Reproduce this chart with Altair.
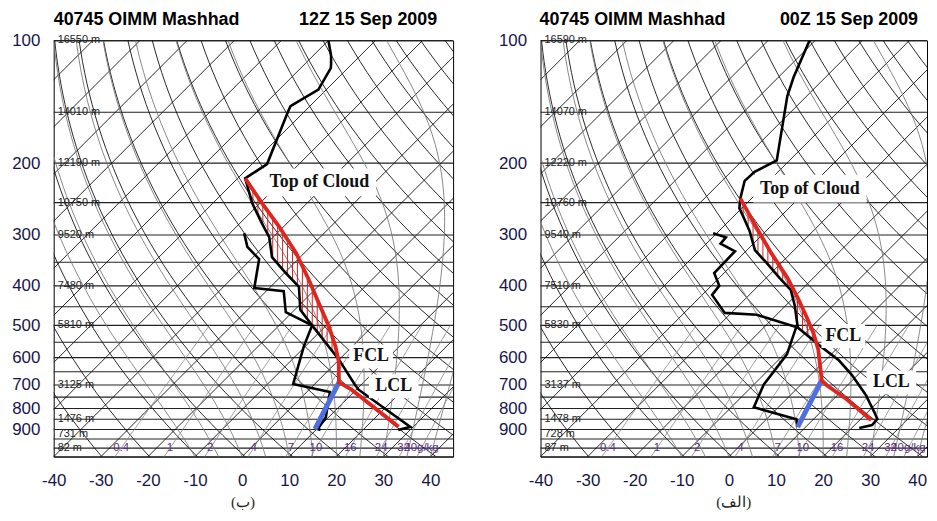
import numpy as np
import pandas as pd
import altair as alt

# ---------------- axes / grid definitions ----------------
PRESSURE_TICKS = [100, 200, 300, 400, 500, 600, 700, 800, 900]
TEMP_TICKS = [-40, -30, -20, -10, 0, 10, 20, 30, 40]
PRESSURE_LINES = [100, 150, 200, 250, 300, 350, 400, 450, 500, 550, 600, 650,
                  700, 750, 800, 850, 900, 950, 1000, 1050]
ISOTHERMS = [-130, -120, -110, -100, -90, -80, -70, -60, -50, -40, -30, -20,
             -10, 0, 10, 20, 30, 40, 50]
DRY_ADIABATS = [230, 240, 250, 260, 270, 280, 290, 300, 310, 320, 330, 340,
                350, 360, 370, 380, 390, 400, 410, 420, 430, 440, 450, 460]
MOIST_ADIABATS = [-10, -5, 0, 5, 10, 15, 20, 25, 30, 35, 40]
MIXING_RATIOS = [0.4, 1, 2, 4, 7, 10, 16, 24, 32, 40]
MIXING_LABELS = ["0.4", "1", "2", "4", "7", "10", "16", "24", "32", "40g/kg"]
HEIGHT_LEVELS = [100, 150, 200, 250, 300, 400, 500, 700, 850, 925, 1000]

# ---------------- left panel (12Z) ----------------
L_TITLE = "40745 OIMM Mashhad"
L_DATE = "12Z 15 Sep 2009"
L_CAPTION = "(ب)"
L_HEIGHTS = ["16550 m", "14010 m", "12190 m", "10750 m", "9520 m", "7480 m",
             "5810 m", "3125 m", "1476 m", "731 m", "82 m"]
L_TEMP_P = [100, 109, 114, 117, 132, 145, 150, 201, 218, 251, 281, 304, 340,
            372, 402, 458, 500, 606, 697, 718, 887, 903]
L_TEMP_T = [-70.0, -66.2, -64.5, -63.6, -61.7, -64.1, -63.4, -56.8, -58.4,
            -51.6, -45.3, -40.8, -36.0, -29.7, -24.0, -18.8, -13.0, -0.1, 8.5,
            10.4, 29.4, 27.5]
L_DEW_P = [297, 321, 344, 405, 412, 464, 500, 563, 696, 728, 840, 898, 903]
L_DEW_T = [-47.0, -43.4, -38.3, -33.2, -26.3, -21.4, -13.0, -10.3, -4.6, 4.9,
           9.4, 10.2, 11.0]
L_PARCEL_P = [218, 251, 287, 332, 387, 432, 503, 564, 613, 690, 718, 887]
L_PARCEL_T = [-58.4, -49.5, -40.8, -31.8, -23.3, -17.4, -9.2, -3.5, 0.3, 4.8,
              8.9, 26.9]
L_LCL_P = [898, 690]
L_LCL_T = [9.6, 4.8]
L_ANN_TEXT = ["Top of Cloud", "FCL", "LCL"]
L_ANN_X = [16.4, 27.4, 32.2]
L_ANN_P = [223, 596, 706]

# ---------------- right panel (00Z) ----------------
R_TITLE = "40745 OIMM Mashhad"
R_DATE = "00Z 15 Sep 2009"
R_CAPTION = "(الف)"
R_HEIGHTS = ["16590 m", "14070 m", "12220 m", "10760 m", "9540 m", "7510 m",
             "5830 m", "3137 m", "1478 m", "728 m", "87 m"]
R_TEMP_P = [100, 123, 137, 197, 210, 221, 244, 258, 269, 294, 327, 352, 383,
            409, 447, 506, 567, 610, 661, 740, 816, 848, 878, 893]
R_TEMP_T = [-71.2, -66.8, -64.1, -52.7, -55.0, -55.2, -52.4, -50.5, -48.2,
            -43.4, -38.3, -33.0, -27.1, -22.3, -18.1, -12.8, -3.3, 3.0, 8.7,
            15.9, 21.4, 23.5, 23.7, 21.6]
R_DEW_P = [297, 304, 315, 329, 372, 400, 421, 466, 471, 505, 589, 699, 794,
           850, 888]
R_DEW_T = [-50.8, -47.2, -47.0, -42.3, -42.1, -38.3, -37.9, -31.4, -24.2,
           -13.2, -9.4, -7.9, -5.2, 6.4, 8.3]
R_PARCEL_P = [244, 289, 333, 383, 428, 473, 521, 574, 682, 701, 758, 853]
R_PARCEL_T = [-52.4, -42.5, -34.1, -25.4, -19.1, -13.6, -8.4, -3.7, 3.5, 5.6,
              12.7, 22.4]
R_LCL_P = [888, 682]
R_LCL_T = [8.3, 3.5]
R_ANN_TEXT = ["Top of Cloud", "FCL", "LCL"]
R_ANN_X = [17.2, 24.3, 34.5]
R_ANN_P = [231, 531, 690]

# ---------------- geometry of the skew-T ----------------
P_BOT = 1050.0
K = 86.5          # skew, deg C per decade of pressure (45 degree isotherms)
NAVY = "#16164a"


def skewx(T, p):
    T = np.asarray(T, dtype=float)
    p = np.asarray(p, dtype=float)
    return T + K * np.log10(P_BOT / p)


def sat_vp(tc):
    return 6.112 * np.exp(17.67 * tc / (tc + 243.5))


def dew_from_w(w, p):
    e = w * p / (622.0 + w)
    a = np.log(e / 6.112)
    return 243.5 * a / (17.67 - a)


def moist_path(t0):
    Rd, cp, Lv, eps = 287.04, 1005.7, 2.501e6, 0.622
    p, T = P_BOT, t0 + 273.15
    out = [(p, t0)]
    while p > 100.5:
        es = sat_vp(T - 273.15)
        rs = eps * es / (p - es)
        dTdp = (Rd * T + Lv * rs) / (p * (cp + Lv * Lv * rs * eps / (Rd * T * T)))
        T += dTdp * (-2.0)
        p -= 2.0
        out.append((p, T - 273.15))
    return out[::5]


def grid_frames():
    rows = []
    for t in ISOTHERMS:
        for j, p in enumerate([100.0, P_BOT]):
            rows.append({"k": f"t{t}", "i": j, "p": p, "xs": float(skewx(t, p))})
    iso = pd.DataFrame(rows)
    pp = np.geomspace(100, P_BOT, 40)
    rows = []
    for th in DRY_ADIABATS:
        for j, p in enumerate(pp):
            rows.append({"k": f"d{th}", "i": j, "p": float(p),
                         "xs": float(skewx(th * (p / 1000.0) ** 0.2857 - 273.15, p))})
    dry = pd.DataFrame(rows)
    rows = []
    for t0 in MOIST_ADIABATS:
        for j, (p, t) in enumerate(moist_path(t0)):
            rows.append({"k": f"m{t0}", "i": j, "p": float(p), "xs": float(skewx(t, p))})
    moist = pd.DataFrame(rows)
    pm = np.geomspace(500, P_BOT, 20)
    rows = []
    for w in MIXING_RATIOS:
        for j, p in enumerate(pm):
            rows.append({"k": f"w{w}", "i": j, "p": float(p),
                         "xs": float(skewx(dew_from_w(w, p), p))})
    mix = pd.DataFrame(rows)
    mlab = pd.DataFrame({"label": MIXING_LABELS, "p": 1000.0,
                         "xs": [float(skewx(dew_from_w(w, 1000.0), 1000.0)) for w in MIXING_RATIOS]})
    return iso, dry, moist, mix, mlab


def profile(p_list, t_list):
    return pd.DataFrame({"p": p_list, "xs": skewx(t_list, p_list), "i": range(len(p_list))})


def hatch(env_p, env_t, par_p, par_t, p_lim, step=1.05):
    par_lp = np.linspace(np.log10(par_p[0]), np.log10(p_lim), 800)
    par_x = np.interp(par_lp, np.log10(par_p), skewx(par_t, par_p))
    env_lp = np.linspace(np.log10(env_p[0]), np.log10(env_p[-1]), 3000)
    env_x = np.interp(env_lp, np.log10(env_p), skewx(env_t, env_p))
    rows = []
    for x0 in np.arange(par_x.min() + 0.6, par_x.max(), step):
        idx = int(np.argmax(par_x >= x0))
        p1 = 10 ** par_lp[idx]
        cand = np.where((env_lp > par_lp[idx]) & (env_x >= x0))[0]
        if len(cand) == 0:
            continue
        p2 = 10 ** env_lp[cand[0]]
        if p2 > p1 * 1.01:
            rows.append({"xs": float(x0), "p": float(p1), "p2": float(p2)})
    return pd.DataFrame(rows)


GRID = grid_frames()


def panel(cfg):
    iso, dry, moist, mix, mlab = GRID
    W = cfg["W"]
    xscale = alt.Scale(domain=cfg["xdom"], nice=False, zero=False)
    yscale = alt.Scale(type="log", domain=[100, P_BOT], reverse=True, nice=False)
    xaxis = alt.Axis(values=TEMP_TICKS, title=cfg["caption"], titleFont="Liberation Serif",
                     titleFontSize=15, titleFontWeight="normal", titleColor="#222",
                     titleX=cfg["capx"], titleAlign="center", titlePadding=6,
                     labelExpr="'' + datum.value",
                     labelFont="Liberation Sans", labelFontSize=17, labelColor=NAVY,
                     labelPadding=16, ticks=False, domain=False, grid=False,
                     labelFlush=False, labelOverlap=False)
    yaxis = alt.Axis(values=PRESSURE_TICKS, title=None, format="d",
                     labelFont="Liberation Sans", labelFontSize=17, labelColor=NAVY,
                     labelPadding=14, ticks=False, domain=False, grid=False,
                     labelFlush=False, labelOverlap=False,
                     minExtent=cfg["ext"], maxExtent=cfg["ext"])

    def X(f="xs"):
        return alt.X(f"{f}:Q", scale=xscale, axis=xaxis)

    def Y(f="p"):
        return alt.Y(f"{f}:Q", scale=yscale, axis=yaxis)

    layers = []
    layers.append(alt.Chart(pd.DataFrame({"p": PRESSURE_LINES})).mark_rule(
        color="#222222", strokeWidth=1.1).encode(y=Y()))
    for df, col, sw in [(iso, "#111111", 0.9), (dry, "#111111", 0.9),
                        (moist, "#7a7a7a", 0.9), (mix, "#888888", 0.8)]:
        layers.append(alt.Chart(df).mark_line(color=col, strokeWidth=sw, clip=True).encode(
            x=X(), y=Y(), detail="k:N", order="i:Q"))
    hl = pd.DataFrame({"p": HEIGHT_LEVELS, "label": cfg["heights"]})
    layers.append(alt.Chart(hl).mark_text(align="left", baseline="middle", fontSize=11,
                                          font="Liberation Sans Narrow, Liberation Sans",
                                          color="#222").encode(
        x=alt.value(4), y=Y(), text="label:N"))
    layers.append(alt.Chart(mlab).mark_text(baseline="middle", fontSize=11.5,
                                            font="Liberation Sans", color="#5a2d82").encode(
        x=X(), y=Y(), text="label:N"))
    hdf = hatch(cfg["temp_p"], cfg["temp_t"], cfg["par_p"], cfg["par_t"], cfg["plim"])
    layers.append(alt.Chart(hdf).mark_rule(color="#d41f1f", strokeWidth=1.0).encode(
        x=X(), y=Y(), y2="p2:Q"))
    layers.append(alt.Chart(profile(cfg["dew_p"], cfg["dew_t"])).mark_line(
        color="black", strokeWidth=2.6, clip=True).encode(x=X(), y=Y(), order="i:Q"))
    layers.append(alt.Chart(profile(cfg["temp_p"], cfg["temp_t"])).mark_line(
        color="black", strokeWidth=2.6, clip=True).encode(x=X(), y=Y(), order="i:Q"))
    layers.append(alt.Chart(profile(cfg["lcl_p"], cfg["lcl_t"])).mark_line(
        color="#4f6ee0", strokeWidth=5).encode(x=X(), y=Y(), order="i:Q"))
    layers.append(alt.Chart(profile(cfg["par_p"], cfg["par_t"])).mark_line(
        color="#e0251f", strokeWidth=3.8).encode(x=X(), y=Y(), order="i:Q"))
    ann = pd.DataFrame({"label": cfg["ann_text"], "xs": cfg["ann_x"], "p": cfg["ann_p"]})
    for k, (bw, bh) in enumerate([(114, 28), (44, 24), (50, 24)]):
        layers.append(alt.Chart(ann.iloc[[k]]).mark_rect(
            width=bw, height=bh, color="white").encode(x=X(), y=Y()))
    layers.append(alt.Chart(ann).mark_text(font="Liberation Serif", fontWeight="bold",
                                           fontSize=18, color="#111").encode(
        x=X(), y=Y(), text="label:N"))
    # header: station on the left, date on the right
    layers.append(alt.Chart(pd.DataFrame({"t": [cfg["title"]]})).mark_text(
        align="left", baseline="alphabetic", font="Liberation Sans", fontWeight="bold",
        fontSize=18, color="black").encode(
        x=alt.value(cfg["titlex"]), y=alt.value(-16), text="t:N"))
    layers.append(alt.Chart(pd.DataFrame({"t": [cfg["date"]]})).mark_text(
        align="right", baseline="alphabetic", font="Liberation Sans", fontWeight="bold",
        fontSize=18, color="black").encode(
        x=alt.value(cfg["datex"]), y=alt.value(-16), text="t:N"))
    return alt.layer(*layers).properties(width=W, height=419)


left = panel(dict(W=402, xdom=[-40, 44.81], caption=L_CAPTION, capx=190, ext=45,
                  heights=L_HEIGHTS, temp_p=L_TEMP_P, temp_t=L_TEMP_T, dew_p=L_DEW_P,
                  dew_t=L_DEW_T, par_p=L_PARCEL_P, par_t=L_PARCEL_T, plim=600,
                  lcl_p=L_LCL_P, lcl_t=L_LCL_T, ann_text=L_ANN_TEXT, ann_x=L_ANN_X,
                  ann_p=L_ANN_P, date=L_DATE, datex=386, title=L_TITLE, titlex=0))
right = panel(dict(W=389, xdom=[-40, 42.07], caption=R_CAPTION, capx=194, ext=47,
                   heights=R_HEIGHTS, temp_p=R_TEMP_P, temp_t=R_TEMP_T, dew_p=R_DEW_P,
                   dew_t=R_DEW_T, par_p=R_PARCEL_P, par_t=R_PARCEL_T, plim=520,
                   lcl_p=R_LCL_P, lcl_t=R_LCL_T, ann_text=R_ANN_TEXT, ann_x=R_ANN_X,
                   ann_p=R_ANN_P, date=R_DATE, datex=380, title=R_TITLE, titlex=-1))

chart = alt.hconcat(left, right, spacing=38).properties(
    padding={"left": 0, "right": 0, "top": 0, "bottom": 0},
    background="white",
).configure_view(stroke="black", strokeWidth=1)

chart.save("out.html", embed_options={"renderer": "svg", "actions": False})
